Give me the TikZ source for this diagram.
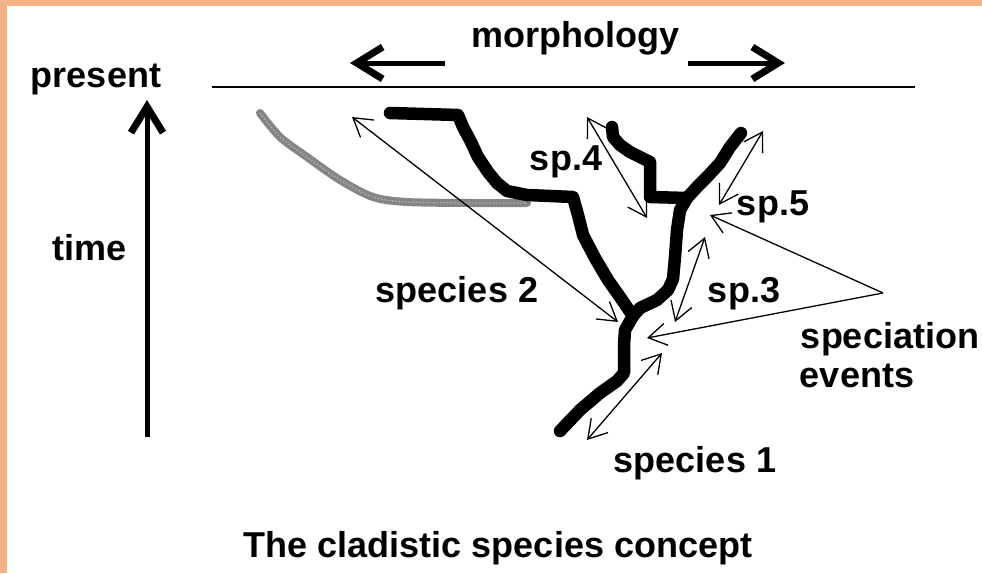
\documentclass[tikz,border=0pt]{standalone}
\usepackage{fontspec}
\setmainfont{Liberation Sans}
\usetikzlibrary{arrows.meta}
\definecolor{peach}{RGB}{244,177,131}
\begin{document}
\begin{tikzpicture}[x=1pt,y=-1pt,
  lab/.style={font=\fontsize{36}{40}\selectfont\bfseries, inner sep=0pt, anchor=base},
  twohead/.style={line width=1.3pt, {Straight Barb[length=18pt,width=22pt]}-{Straight Barb[length=18pt,width=22pt]}},
  onehead/.style={line width=1.3pt, -{Straight Barb[length=18pt,width=22pt]}},
  bigarrow/.style={line width=5pt, -{Straight Barb[length=26pt,width=32pt,line width=7pt]}},
  lineage/.style={line width=12.5pt, line join=round, line cap=round},
  extinct/.style={line width=8pt, black!48, line cap=round},
  stipple/.style={line width=1.3pt, white!70!black, dash pattern=on 1.5pt off 2pt}
]
\useasboundingbox (0,0) rectangle (982,573);
\fill[white] (0,0) rectangle (982,573);
\fill[peach] (0,0) rectangle (982,6);
\fill[peach] (0,0) rectangle (7,573);

% labels
\node[lab] (morph) at (575,47) {morphology};
\node[lab] (present) at (96,87) {present};
\node[lab] (time) at (90,260) {time};
\node[lab] (sp2) at (457,302) {species 2};
\node[lab] (sp4) at (566,170) {sp.4};
\node[lab] (sp5) at (773,215) {sp.5};
\node[lab] (sp3) at (744,302) {sp.3};
\node[lab] (spec) at (890,348) {speciation};
\node[lab] (events) at (857,387) {events};
\node[lab] (sp1) at (695,472) {species 1};
\node[lab] (caption) at (498,557) {The cladistic species concept};

% present line
\coordinate (pl) at (212,87);
\coordinate (pr) at (915,87);
\draw[line width=2pt] (pl) -- (pr);

% morphology arrows
\coordinate (mla) at (445,63);
\coordinate (mlb) at (350,63);
\coordinate (mra) at (688,63);
\coordinate (mrb) at (785,63);
\draw[bigarrow] (mla) -- (mlb);
\draw[bigarrow] (mra) -- (mrb);

% time arrow
\coordinate (ta) at (147,437);
\coordinate (tb) at (147,100);
\draw[bigarrow] (ta) -- (tb);

% extinct lineage
\draw[extinct] plot[smooth] coordinates {(260,113) (280,137) (307,157) (340,180) (373,197) (407,202) (473,203) (527,203)};
\draw[stipple] plot[smooth] coordinates {(260,113) (280,137) (307,157) (340,180) (373,197) (407,202) (473,203) (527,203)};

% lineages
\coordinate (junc) at (633,316);
\coordinate (junc2) at (687,198);
\draw[lineage] (390,113) -- (458,115) -- (463,127) -- (470,140) -- (478,157) -- (488,172) -- (497,183) -- (507,191) -- (527,195) -- (573,197) -- (578,215) -- (583,235) -- (595,258) -- (608,280) -- (620,297) -- (junc);
\draw[lineage] (junc) -- (625,330) -- (624,345) -- (624,373) -- (617,381) -- (600,393) -- (580,410) -- (560,431);
\draw[lineage] (junc) -- (640,308) -- (657,300) -- (668,290) -- (673,279) -- (675,257) -- (677,230) -- (680,210) -- (junc2) -- (697,187) -- (707,177) -- (720,163) -- (730,147) -- (741,133);
\draw[lineage] (junc2) -- (650,197) -- (650,162) -- (640,157) -- (630,152) -- (620,145) -- (613,137) -- (612,127);

% species arrows
\coordinate (s2a) at (352,117);
\coordinate (s2b) at (618,322);
\draw[twohead] (s2a) -- (s2b);
\coordinate (s4a) at (587,117);
\coordinate (s4b) at (647,218);
\draw[twohead] (s4a) -- (s4b);
\coordinate (s5a) at (763,131);
\coordinate (s5b) at (719,205);
\draw[twohead] (s5a) -- (s5b);
\coordinate (s3a) at (705,237);
\coordinate (s3b) at (675,322);
\draw[twohead] (s3a) -- (s3b);
\coordinate (s1a) at (662,353);
\coordinate (s1b) at (587,440);
\draw[twohead] (s1a) -- (s1b);

% speciation events pointers
\coordinate (apex) at (883,293);
\coordinate (ev1) at (710,215);
\coordinate (ev2) at (647,338);
\draw[onehead] (apex) -- (ev1);
\draw[onehead] (apex) -- (ev2);
\end{tikzpicture}
\end{document}
